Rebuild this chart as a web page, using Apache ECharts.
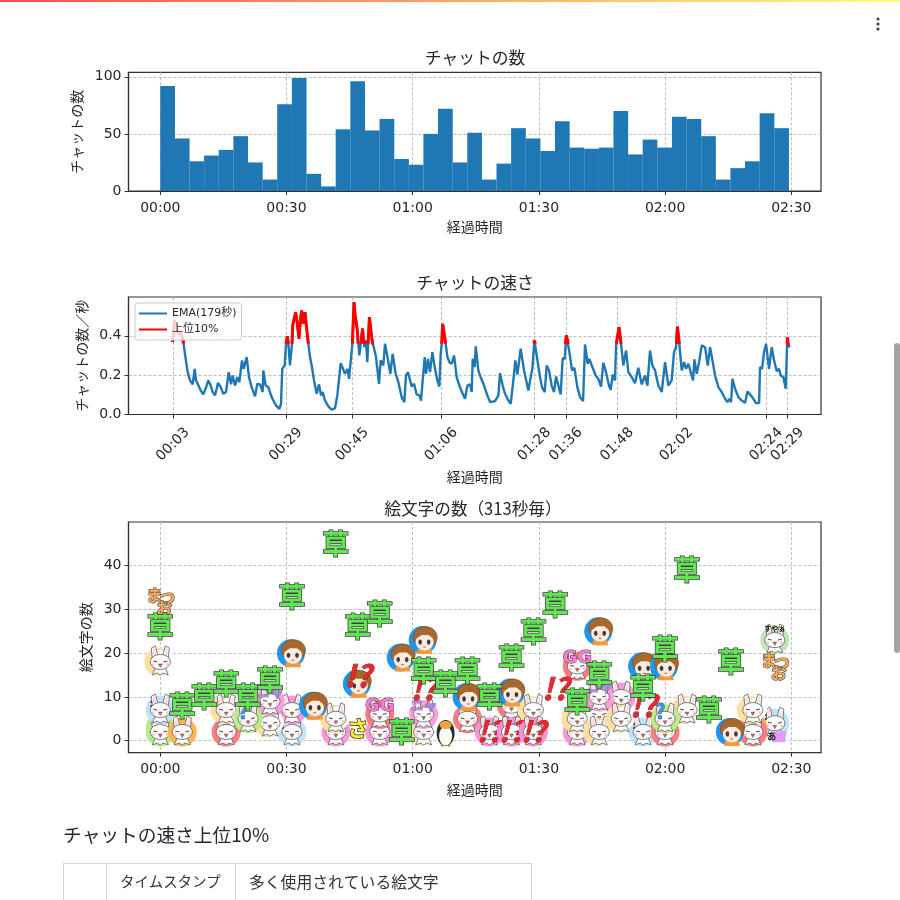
<!DOCTYPE html>
<html><head><meta charset="utf-8">
<style>html,body{margin:0;padding:0;background:#fff;overflow:hidden}#c{width:900px;height:900px}</style>
<script src="https://cdn.jsdelivr.net/npm/echarts@6/dist/echarts.min.js"></script>
</head><body><div id="c"></div>
<script>
// ---- data ----
const chatBinMinutes = 3.475;
const chatCounts = [92,46,26,31,36,48,25,10,76,99,15,4,54,96,53,63,28,23,50,72,25,51,10,24,55,46,35,61,38,37,38,70,32,45,38,65,63,48,10,20,26,68,55];
const timeTicks = [0,30,60,90,120,150];
const speedTickMinutes = [3.02,29.88,45.6,66.8,88.95,96.4,108.6,122.7,144,149.1];
const speedTimes = [2.94,3.34,4.29,4.84,5.48,5.63,6.03,6.51,7.06,7.69,8.17,8.49,8.88,9.6,10.23,11.02,11.42,11.97,12.45,13.0,13.72,14.35,14.98,15.62,16.25,16.8,17.2,17.76,18.31,18.79,19.42,19.82,20.53,21.08,21.72,22.51,23.07,23.7,24.33,24.49,25.05,25.68,26.47,27.5,28.29,28.61,28.69,28.99,29.56,29.88,30.2,30.44,30.83,31.07,31.31,31.47,31.94,32.18,32.57,32.97,33.37,33.6,34.0,34.4,34.79,35.19,35.59,35.99,36.54,37.17,37.73,38.2,38.6,39.15,39.95,40.74,41.53,42.08,42.48,42.88,43.35,43.9,44.54,44.86,45.33,45.65,46.05,46.28,46.84,47.31,47.87,48.1,48.5,48.9,49.2,49.7,50.25,50.64,51.28,51.99,52.38,53.01,53.41,53.8,54.2,54.68,55.24,55.95,56.59,57.38,58.0,58.4,58.88,59.76,60.31,60.94,61.58,61.97,62.37,62.85,63.16,63.64,64.11,64.67,65.3,65.86,66.33,66.65,66.89,67.12,67.44,67.84,68.24,68.71,69.26,69.82,70.45,71.09,71.88,72.43,72.99,73.62,74.02,74.26,74.73,74.97,75.6,76.0,76.4,76.95,77.74,78.38,79.57,80.36,80.75,81.39,81.94,82.74,83.29,83.92,84.4,84.88,85.67,86.46,87.49,88.05,88.44,88.92,89.08,89.47,90.26,90.74,91.38,91.85,92.4,93.03,93.59,94.07,94.62,95.17,95.65,96.13,96.52,96.76,97.24,97.87,98.43,99.13,99.77,100.49,100.96,101.59,101.99,102.55,102.94,103.5,104.13,104.76,105.32,105.95,106.66,107.06,107.53,108.09,108.33,109.04,109.52,110.07,110.71,111.26,112.05,112.84,113.63,114.43,115.22,115.78,116.41,116.97,117.6,118.39,119.19,119.98,120.77,121.56,122.11,122.59,122.91,123.38,123.94,124.49,124.97,125.53,126.08,126.64,126.95,127.51,128.14,128.7,129.49,130.13,130.68,131.32,131.87,132.66,133.46,134.25,134.8,135.28,135.68,135.99,136.62,137.41,138.21,139.0,139.55,140.19,140.98,141.61,142.33,142.56,143.04,143.51,143.99,144.7,145.33,145.89,146.52,147.07,147.47,148.1,148.66,149.05,149.29,149.69];
const speedValues = [.368,.478,.41,.419,.368,.359,.283,.215,.173,.153,.232,.173,.156,.122,.102,.147,.173,.147,.114,.097,.161,.139,.105,.114,.215,.153,.198,.147,.19,.164,.275,.232,.292,.19,.139,.092,.156,.153,.114,.224,.147,.139,.088,.046,.029,.037,.054,.232,.249,.359,.397,.359,.249,.241,.359,.453,.453,.52,.461,.385,.495,.529,.461,.52,.436,.359,.292,.249,.173,.105,.153,.097,.114,.071,.041,.024,.032,.097,.105,.261,.258,.207,.232,.181,.19,.359,.571,.512,.427,.3,.4,.437,.342,.376,.266,.495,.393,.351,.292,.156,.275,.249,.359,.317,.325,.207,.308,.207,.164,.088,.063,.198,.215,.142,.156,.102,.097,.071,.173,.292,.207,.283,.215,.317,.232,.173,.142,.308,.359,.461,.453,.359,.292,.266,.258,.3,.19,.147,.105,.08,.147,.153,.114,.283,.241,.346,.224,.198,.207,.147,.097,.063,.068,.097,.21,.147,.105,.071,.054,.173,.275,.203,.334,.224,.122,.19,.232,.376,.368,.3,.19,.139,.114,.249,.224,.147,.114,.193,.147,.102,.286,.283,.402,.402,.317,.224,.237,.139,.088,.068,.356,.258,.283,.249,.258,.198,.181,.142,.263,.215,.147,.125,.203,.173,.351,.444,.359,.249,.325,.215,.19,.159,.237,.153,.198,.147,.325,.249,.224,.147,.114,.266,.147,.173,.317,.342,.447,.359,.224,.266,.232,.258,.215,.173,.28,.207,.275,.351,.342,.249,.342,.266,.198,.139,.114,.08,.063,.08,.063,.181,.131,.088,.071,.059,.117,.102,.08,.058,.058,.241,.232,.317,.359,.232,.342,.275,.22,.232,.198,.19,.131,.393,.351,.342];
const topSegments = [
 [[2.94,.368],[3.34,.478],[4.29,.41],[4.84,.419],[5.48,.368],[5.63,.359]],
 [[29.88,.359],[30.2,.397],[30.44,.359]],
 [[31.31,.359],[31.47,.453],[31.94,.453],[32.18,.52],[32.57,.461],[32.97,.385],[33.37,.495],[33.6,.529],[34.0,.461],[34.4,.52],[34.79,.436],[35.19,.359]],
 [[45.65,.359],[46.05,.571],[46.28,.512],[46.84,.427],[47.0,.36]],
 [[47.75,.36],[47.87,.4],[48.1,.437],[48.3,.36]],
 [[48.75,.36],[48.9,.376],[49.05,.36]],
 [[49.4,.36],[49.7,.495],[50.25,.393],[50.5,.355]],
 [[66.89,.359],[67.12,.461],[67.44,.453],[67.84,.359]],
 [[88.8,.359],[88.92,.376],[89.08,.368],[89.15,.359]],
 [[96.3,.359],[96.52,.402],[96.76,.402],[97.0,.359]],
 [[108.4,.359],[109.04,.444],[109.52,.359]],
 [[122.7,.359],[122.91,.447],[123.38,.359]],
 [[149.0,.359],[149.05,.393],[149.29,.351]]
];
// emoji counts: [313-second bin index, count]
const emojiBinSeconds = 313;
const rabbitGreen = [[0,3],[0,2]];
const rabbitBlue = [[0,7],[6,2],[22,2],[28,4]];
const rabbitOrange = [[1,2],[27,3]];
const rabbitRed = [[3,2],[14,5],[16,8],[23,2],[27,2]];
const rabbitPink = [[6,7],[8,2],[10,2],[19,2],[20,6],[21,10]];
const rabbitYellow = [[0,18],[3,7],[5,4],[8,5],[12,2],[17,7],[19,5],[20,2],[21,5],[24,7],[27,7]];
const rabbitSleep = [[28,23]];
const rabbitNya = [[5,9],[12,6],[20,10]];
const rabbitQuestion = [[4,5],[23,5]];
const rabbitExclaim = [[15,2],[16,2],[17,2]];
const rabbitGG = [[10,6],[19,17]];
const boyFace = [[6,20],[7,8],[9,13],[11,19],[12,23],[14,10],[16,11],[20,25],[22,17],[23,17],[26,2]];
const penguinBird = [[13,2]];
const exclaimMark = [[9,15],[12,12],[18,12],[22,8]];
const saSign = [[9,3]];
const matsuoSign = [[0,32],[28,17]];
const aSign = [[28,1]];
const kusaSign = [[0,26],[1,8],[2,10],[3,13],[4,10],[5,14],[6,33],[8,45],[9,26],[10,29],[11,2],[12,16],[13,13],[14,16],[15,10],[16,19],[17,25],[18,31],[19,9],[20,15],[22,12],[23,21],[24,39],[25,7],[26,18]];

// ---- styles ----
const LAT = "'DejaVu Sans','Noto Sans CJK JP',sans-serif";
const JP = "'Noto Sans CJK JP',sans-serif";
const INK = '#262626';
const hhmm = v => { const m = Math.floor(v + 1e-6); return String(Math.floor(m/60)).padStart(2,'0') + ':' + String(m%60).padStart(2,'0'); };
const gridLine = { show:true, lineStyle:{ color:'#b8b8b8', width:0.9, type:[3,2] } };
const tick = vals => ({ show:true, length:4, customValues:vals, lineStyle:{ color:'#333', width:1 } });
const label = vals => ({ customValues:vals, color:INK, fontFamily:LAT, fontSize:14 });
const nameStyle = { color:INK, fontFamily:JP, fontSize:14 };
const edge = { show:true, onZero:false, lineStyle:{ color:'#333', width:1.2 } };

function xAxis(gridIndex, ticks, gap, extra){
  return Object.assign({ type:'value', gridIndex, min:-7.56, max:157.05, name:'経過時間', nameLocation:'middle', nameGap:gap, nameTextStyle:nameStyle,
    axisLine:edge, axisTick:tick(ticks), splitLine:gridLine,
    axisLabel:Object.assign(label(ticks),{ margin:10, formatter:hhmm }) }, extra||{});
}
function yAxis(gridIndex, min, max, ticks, name, gap, fmt){
  return { type:'value', gridIndex, min, max, name, nameLocation:'middle', nameGap:gap, nameTextStyle:nameStyle,
    axisLine:edge, axisTick:tick(ticks), splitLine:gridLine,
    axisLabel:Object.assign(label(ticks),{ margin:7, padding:[3,0,0,0], formatter:fmt }) };
}

// ---- sticker pieces (local pixel shapes around a data point) ----
const OUT = '#5a5a5a';
const circle = (x,y,r,fill) => ({ type:'circle', shape:{cx:x,cy:y,r}, style:{fill} });
const ell = (x,y,rx,ry,fill,stroke,lw) => ({ type:'ellipse', shape:{cx:x,cy:y,rx,ry}, style:{fill,stroke:stroke||null,lineWidth:lw==null?0.8:lw} });
const poly = (pts,fill,stroke,lw) => ({ type:'polygon', shape:{points:pts}, style:{fill,stroke:stroke||null,lineWidth:lw==null?0.8:lw} });
const seg = (a,b,c,d,stroke,lw) => ({ type:'line', shape:{x1:a,y1:b,x2:c,y2:d}, style:{stroke,lineWidth:lw||1} });
const txt = (s,x,y,size,fill,stroke,lw,family,style) => ({ type:'text', style:{ text:s, x, y, fill, stroke:stroke||null, lineWidth:lw||0,
   font:(style||'')+' bold '+size+'px '+(family||JP), align:'center', verticalAlign:'middle', textAlign:'center', textVerticalAlign:'middle' } });
function bunny(){
  return [
    poly([[-8,-4],[-9,-14],[-5,-16],[-2,-5]],'#fff',OUT),
    poly([[2,-5],[5,-16],[9,-14],[8,-3]],'#fff',OUT),
    poly([[-7,-6],[-7.5,-13],[-5,-14],[-4,-6]],'#ffd9e4'),
    poly([[4,-6],[6,-14],[7.6,-13],[6.5,-5]],'#ffd9e4'),
    poly([[-5,6],[-8,13],[-3,11],[0,13],[3,11],[8,13],[5,6]],'#fff',OUT),
    ell(0,0,10,7.5,'#fff',OUT),
    seg(-7,-1,-3,0,'#444',1), seg(3,0,7,-1,'#444',1),
    poly([[-2,2],[2,2],[0,5.5]],'#e05a5a',OUT,0.5),
    circle(-7,2.5,1.6,'#ffc9d2'), circle(7,2.5,1.6,'#ffc9d2')
  ];
}
const bg = col => circle(0,0,14.5,col);
const tinted = (col,extra) => () => [bg(col)].concat(bunny(),extra||[]);
const crescent = () => [circle(-2,0,14,'#fde0a0'),circle(3,-1,11,'#fff')].concat(bunny());
const drawers = {
  kusa: () => [txt('草',0,0,27,'#5fe84f','#3e3e3e',1.5)],
  boy: () => [
    circle(-1,0,14,'#1e96f0'),
    poly([[-6,9],[8,9],[9,14],[-7,14]],'#f59a3c'),
    ell(1.5,-3,12,10.5,'#a8672e','#6a4a2a',0.6),
    ell(1,2,9,8.5,'#ffeadb'),
    poly([[-8,-1],[-5,-8],[5,-9],[10,-1],[5,-5],[-2,-5]],'#a8672e'),
    ell(-3.5,2,1.8,2.6,'#3b3b46'), ell(5,2,1.8,2.6,'#3b3b46'),
    seg(-0.5,7,2,7,'#b05050',1)
  ],
  penguin: () => [
    ell(0,1,9,13,'#2c2c30'), ell(0,4,6.5,9.5,'#fafafa'),
    ell(0,-7,6,4,'#f2a33a'), poly([[-6,13],[-1,13],[-3,15]],'#e98d2b'), poly([[1,13],[6,13],[3,15]],'#e98d2b')
  ],
  exclaim: () => [txt('!?',0,0,30,'#e42a2e','#7a1a1a',0.7,JP,'italic')],
  sa: () => [txt('さ',0,0,21,'#fff02e','#333',1.5)],
  matsuo: () => [txt('ま',-6,-6,16,'#ffaa55','#4a4a4a',1.2),txt('つ',7,-3,16,'#ffaa55','#4a4a4a',1.2),txt('お',4,7,16,'#ffaa55','#4a4a4a',1.2)],
  aSign: () => [poly([[-4,-5],[12,-5],[10,6],[-2,6]],'#e59af7'),txt('あ',-3,0,9,'#222')]
};
const pieces = [
  ['rabbitGreen',rabbitGreen,tinted('#b5ec88')],
  ['rabbitBlue',rabbitBlue,tinted('#bfe3fb',[txt(':',-9,-7,11,'#444')])],
  ['rabbitOrange',rabbitOrange,tinted('#ffb552')],
  ['rabbitRed',rabbitRed,tinted('#ff7d80')],
  ['rabbitPink',rabbitPink,tinted('#ff96d6')],
  ['rabbitYellow',rabbitYellow,crescent],
  ['rabbitSleep',rabbitSleep,tinted('#bfe6b4',[txt('すやぁ',0,-12,7,'#111')])],
  ['rabbitNya',rabbitNya,tinted('#ff9edb',[txt('ニャ',0,-10,14,'#a98bf5','#555',0.5)])],
  ['rabbitQuestion',rabbitQuestion,tinted('#b8ee84',[txt('?',-5,-7,20,'#3f9be8','#33506e',0.8)])],
  ['rabbitExclaim',rabbitExclaim,tinted('#ff92d4',[txt('!?',0,-1,28,'#e42a2e','#7a1a1a',0.7,JP,'italic')])],
  ['rabbitGG',rabbitGG,tinted('#ff7a7c',[txt('GG',0,-8,18,'#ff7ad6','#444',1,LAT)])],
  ['boyFace',boyFace,drawers.boy],
  ['penguinBird',penguinBird,drawers.penguin],
  ['exclaimMark',exclaimMark,drawers.exclaim],
  ['saSign',saSign,drawers.sa],
  ['matsuoSign',matsuoSign,drawers.matsuo],
  ['aSign',aSign,drawers.aSign],
  ['kusaSign',kusaSign,drawers.kusa]
];
const emojiSeries = pieces.map(([name,pts,draw]) => ({
  type:'custom', name, xAxisIndex:2, yAxisIndex:2, clip:false, silent:true,
  encode:{x:0,y:1},
  data:pts.map(p => [p[0]*emojiBinSeconds/60, p[1]]),
  renderItem:(params,api) => {
    const c = api.coord([api.value(0),api.value(1)]);
    return { type:'group', x:c[0], y:c[1], children:draw() };
  }
}));

const topLine = [];
topSegments.forEach((s,i) => { if(i) topLine.push([s[0][0],null]); s.forEach(p => topLine.push(p)); });

const X0=128.5, W=692.5;
const titleStyle = {fontFamily:JP,fontSize:16.8,fontWeight:'normal',color:INK};
const option = {
  animation:false, backgroundColor:'#fff',
  title:[
    {text:'チャットの数',left:475,top:49,padding:0,textAlign:'center',textStyle:titleStyle},
    {text:'チャットの速さ',left:475,top:274,padding:0,textAlign:'center',textStyle:titleStyle},
    {text:'絵文字の数（313秒毎）',left:473,top:500,padding:0,textAlign:'center',textStyle:Object.assign({},titleStyle,{fontSize:16.6})}
  ],
  legend:{ data:['EMA(179秒)','上位10%'], orient:'vertical', left:135, top:303, padding:[5,5,5,4], itemGap:5, itemWidth:28, itemHeight:2, icon:'rect',
    backgroundColor:'rgba(255,255,255,0.8)', borderColor:'#ccc', borderWidth:1, borderRadius:3,
    textStyle:{fontFamily:LAT,fontSize:11,color:INK} },
  grid:[
    {left:X0,width:W,top:72.3,height:118.7,show:true,borderColor:'#333',borderWidth:1.2,backgroundColor:'transparent'},
    {left:X0,width:W,top:297,height:117.5,show:true,borderColor:'#333',borderWidth:1.2,backgroundColor:'transparent'},
    {left:X0,width:W,top:522,height:230.7,show:true,borderColor:'#333',borderWidth:1.2,backgroundColor:'transparent'}
  ],
  xAxis:[
    xAxis(0,timeTicks,29),
    xAxis(1,speedTickMinutes,55.5,{axisLabel:Object.assign(label(speedTickMinutes),{rotate:45,margin:30,align:'center',verticalAlign:'middle',formatter:hhmm})}),
    xAxis(2,timeTicks,30)
  ],
  yAxis:[
    yAxis(0,0,103.9,[0,50,100],'チャットの数',38,v=>String(v)),
    yAxis(1,0,0.597,[0,0.2,0.4],'チャットの数／秒',38,v=>v.toFixed(1)),
    yAxis(2,-2.74,50,[0,10,20,30,40],'絵文字の数',35,v=>String(v))
  ],
  series:[
    {type:'bar',name:'チャットの数',xAxisIndex:0,yAxisIndex:0,barWidth:14.7,itemStyle:{color:'#1f77b4'},
     data:chatCounts.map((v,i)=>[(i+0.5)*chatBinMinutes,v])},
    {type:'line',name:'EMA(179秒)',xAxisIndex:1,yAxisIndex:1,showSymbol:false,symbol:'none',lineStyle:{color:'#1f77b4',width:2.4},itemStyle:{color:'#1f77b4'},
     data:speedTimes.map((t,i)=>[t,speedValues[i]])},
    {type:'line',name:'上位10%',xAxisIndex:1,yAxisIndex:1,showSymbol:false,symbol:'none',connectNulls:false,lineStyle:{color:'#ff0000',width:3},itemStyle:{color:'#ff0000'},
     data:topLine}
  ].concat(emojiSeries),
  graphic:[
    {type:'rect',shape:{x:0,y:0,width:900,height:2},style:{fill:{type:'linear',x:0,y:0,x2:1,y2:0,colorStops:[{offset:0,color:'#ff4b4b'},{offset:1,color:'#fffd80'}]}}},
    {type:'circle',shape:{cx:878,cy:19,r:1.6},style:{fill:'#3d4050'}},
    {type:'circle',shape:{cx:878,cy:24,r:1.6},style:{fill:'#3d4050'}},
    {type:'circle',shape:{cx:878,cy:29,r:1.6},style:{fill:'#3d4050'}},
    {type:'rect',shape:{x:894,y:343,width:6,height:310,r:3},style:{fill:'#a4a4a4'}},
    {type:'text',style:{text:'チャットの速さ上位10%',x:63,y:835,font:"normal 18.7px 'Noto Sans CJK JP',sans-serif",fill:'#262730',verticalAlign:'middle',textVerticalAlign:'middle'}},
    {type:'line',shape:{x1:63,y1:863.5,x2:531.5,y2:863.5},style:{stroke:'#d5d5d8',lineWidth:1}},
    {type:'line',shape:{x1:63.5,y1:863,x2:63.5,y2:900},style:{stroke:'#d5d5d8',lineWidth:1}},
    {type:'line',shape:{x1:106.5,y1:863,x2:106.5,y2:900},style:{stroke:'#d5d5d8',lineWidth:1}},
    {type:'line',shape:{x1:235.5,y1:863,x2:235.5,y2:900},style:{stroke:'#d5d5d8',lineWidth:1}},
    {type:'line',shape:{x1:531.5,y1:863,x2:531.5,y2:900},style:{stroke:'#d5d5d8',lineWidth:1}},
    {type:'text',style:{text:'タイムスタンプ',x:120,y:882,font:"14.4px 'Noto Sans CJK JP',sans-serif",fill:'#31333f',verticalAlign:'middle',textVerticalAlign:'middle'}},
    {type:'text',style:{text:'多く使用されている絵文字',x:249,y:882,font:"15.8px 'Noto Sans CJK JP',sans-serif",fill:'#31333f',verticalAlign:'middle',textVerticalAlign:'middle'}}
  ]
};
const chart = echarts.init(document.getElementById('c'),null,{width:900,height:900});
chart.setOption(option);
</script></body></html>
